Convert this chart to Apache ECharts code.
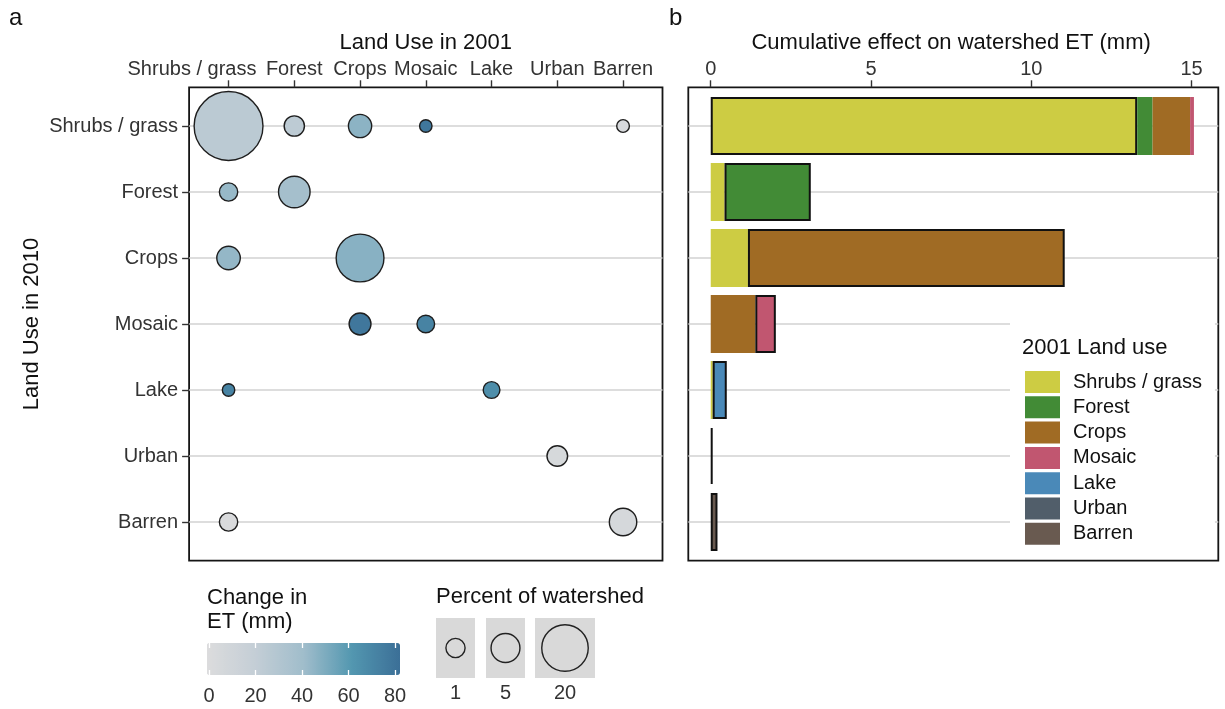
<!DOCTYPE html>
<html>
<head>
<meta charset="utf-8">
<script src="https://cdn.jsdelivr.net/npm/echarts@6/dist/echarts.min.js"></script>
<style>
  html, body { margin: 0; padding: 0; background: #ffffff; }
  #chart { width: 1225px; height: 709px; }
</style>
</head>
<body>
<div id="chart"></div>
<script>
// ---------------- DATA ----------------
const landUses = ['Shrubs / grass', 'Forest', 'Crops', 'Mosaic', 'Lake', 'Urban', 'Barren'];

// Panel a: one entry per bubble (index into landUses)
const from2001     = [0,    1,   2,   3,    6,    0,   1,   0,   2,    2,   3,    0,    4,    5,   0,   6];
const to2010       = [0,    0,   0,   0,    0,    1,   1,   2,   2,    3,   3,    4,    4,    5,   6,   6];
const etChange     = [25,   24,  46,  78,   3,    43,  38,  44,  47,   78,  72,   72,   66,   4,   2,   5];
const pctWatershed = [53.5, 1.3, 2.3, 0.02, 0.03, 0.8, 6.6, 2.4, 21.5, 1.8, 0.65, 0.02, 0.47, 1.4, 0.8, 4.2];

// Panel b: cumulative effect (mm), one array per 2001 land use, values per 2010 row
const cumShrubs = [13.30, 0.43, 1.16, 0,    0.06, 0,    0];
const cumForest = [0.48,  2.69, 0,    0,    0,    0,    0];
const cumCrops  = [1.17,  0,    9.88, 1.39, 0,    0,    0];
const cumMosaic = [0.12,  0,    0,    0.64, 0,    0,    0];
const cumLake   = [0,     0,    0,    0,    0.44, 0,    0];
const cumUrban  = [0,     0,    0,    0,    0,    0.06, 0];
const cumBarren = [0,     0,    0,    0,    0,    0,    0.21];

const etTicks = [0, 20, 40, 60, 80];
const cumTicks = [0, 5, 10, 15];
const sizeLegendValues = [1, 5, 20];

// ---------------- STYLE ----------------
const landColors = ['#CDCC43', '#428B36', '#A06B24', '#C15670', '#4A89B8', '#515E6A', '#695A50'];
const etColors = ['#dcdcdd', '#c4ced6', '#a0bdcb', '#5397b0', '#3b6f97'];
const FONT = '"Liberation Sans", Arial, Helvetica, sans-serif';
const TICK_COLOR = '#333333';
const TITLE_COLOR = '#111111';
const GRIDLINE = '#d2d2d2';

// ggplot-like area size scale (diameter in px)
function sizeScale(p) { return 11.3 + 7.87 * Math.sqrt(p); }

const cumSeries = [cumShrubs, cumForest, cumCrops, cumMosaic, cumLake, cumUrban, cumBarren];

const bubbleData = from2001.map((x, i) => [x, to2010[i], etChange[i], pctWatershed[i]]);

const barSeries = landUses.map((name, j) => ({
  type: 'bar',
  name: name,
  stack: 'cum',
  xAxisIndex: 3,
  yAxisIndex: 3,
  barWidth: 58,
  clip: false,
  silent: true,
  itemStyle: { color: landColors[j] },
  data: cumSeries[j].map((v, i) => i === j
    ? { value: v, itemStyle: { borderColor: '#111', borderWidth: 2 } }
    : v)
}));

// size legend graphics (legend keys, not data marks)
const keyLeft = [436, 486, 535];
const keyWidth = [39, 39, 60];
const keyTop = 618, keyHeight = 60;
const sizeLegendGraphics = [];
sizeLegendValues.forEach((v, i) => {
  const cx = keyLeft[i] + keyWidth[i] / 2;
  sizeLegendGraphics.push({
    type: 'rect', shape: { x: keyLeft[i], y: keyTop, width: keyWidth[i], height: keyHeight },
    style: { fill: '#d9d9d9' }, silent: true
  });
  sizeLegendGraphics.push({
    type: 'circle', shape: { cx: cx, cy: keyTop + keyHeight / 2, r: sizeScale(v) / 2 },
    style: { fill: 'none', stroke: '#222', lineWidth: 1.4 }, silent: true
  });
  sizeLegendGraphics.push({
    type: 'text', x: cx, y: 693,
    style: { text: String(v), fill: TICK_COLOR, font: '20px ' + FONT, align: 'center', verticalAlign: 'middle' },
    silent: true
  });
});

const tickLabel = { fontSize: 20, color: TICK_COLOR, fontFamily: FONT };
const axisTitle = { fontSize: 22, color: TITLE_COLOR, fontFamily: FONT };
const noLine = { show: false, onZero: false };

const chart = echarts.init(document.getElementById('chart'), null, { renderer: 'canvas' });

const option = {
  animation: false,
  backgroundColor: '#ffffff',
  textStyle: { fontFamily: FONT },
  title: [
    { text: 'a', left: 9, top: 6, padding: 0, textStyle: { fontSize: 24, fontWeight: 'normal', color: TITLE_COLOR, fontFamily: FONT } },
    { text: 'b', left: 669, top: 6, padding: 0, textStyle: { fontSize: 24, fontWeight: 'normal', color: TITLE_COLOR, fontFamily: FONT } },
    { text: 'Change in\nET (mm)', left: 207, top: 586, padding: 0, textStyle: { fontSize: 22, lineHeight: 24, fontWeight: 'normal', color: TITLE_COLOR, fontFamily: FONT } },
    { text: 'Percent of watershed', left: 436, top: 586, padding: 0, textStyle: { fontSize: 22, fontWeight: 'normal', color: TITLE_COLOR, fontFamily: FONT } },
    { text: '2001 Land use', left: 1022, top: 337, padding: 0, z: 20, textStyle: { fontSize: 22, fontWeight: 'normal', color: TITLE_COLOR, fontFamily: FONT } }
  ],
  grid: [
    { left: 189.1, top: 126, width: 473.4, height: 396 },                 // 0 bubbles + gridlines
    { left: 195.6, top: 87.3, width: 460.3, height: 473.4 },              // 1 top category labels
    { left: 189.1, top: 87.3, width: 473.4, height: 473.4, show: true, borderColor: '#151515', borderWidth: 1.8, backgroundColor: 'transparent' }, // 2 frame a
    { left: 688.3, top: 126, width: 530, height: 396 },                   // 3 bars + gridlines
    { left: 710.7, top: 87.3, width: 480.9, height: 473.4 },              // 4 top value labels
    { left: 688.3, top: 87.3, width: 530, height: 473.4, show: true, borderColor: '#151515', borderWidth: 1.8, backgroundColor: 'transparent' }, // 5 frame b
    { left: 209, top: 643, width: 186, height: 32 }                       // 6 colourbar labels
  ],
  xAxis: [
    { gridIndex: 0, type: 'value', min: -0.6, max: 6.6, show: false, axisLine: noLine },
    {
      gridIndex: 1, type: 'category', data: landUses, position: 'top', boundaryGap: true,
      axisLine: noLine,
      axisTick: { show: true, alignWithLabel: true, length: 7, lineStyle: { color: TICK_COLOR, width: 1.4 } },
      axisLabel: Object.assign({
        interval: 0, margin: 8,
        formatter: function (v) { return v === landUses[0] ? '{s|' + v + '}' : v; },
        rich: { s: { fontSize: 20, color: TICK_COLOR, fontFamily: FONT, padding: [0, 73, 0, 0] } }
      }, tickLabel),
      splitLine: { show: false },
      name: 'Land Use in 2001', nameLocation: 'middle', nameGap: 30, nameTextStyle: axisTitle
    },
    { gridIndex: 2, type: 'value', show: false, axisLine: noLine },
    { gridIndex: 3, type: 'value', min: -0.7, max: 15.83, show: false, axisLine: noLine },
    {
      gridIndex: 4, type: 'value', min: cumTicks[0], max: cumTicks[cumTicks.length - 1], interval: 5, position: 'top',
      axisLine: noLine,
      axisTick: { show: true, length: 7, lineStyle: { color: TICK_COLOR, width: 1.4 } },
      axisLabel: Object.assign({ margin: 8, showMinLabel: true, showMaxLabel: true }, tickLabel),
      splitLine: { show: false },
      name: 'Cumulative effect on watershed ET (mm)', nameLocation: 'middle', nameGap: 30, nameTextStyle: axisTitle
    },
    { gridIndex: 5, type: 'value', show: false, axisLine: noLine },
    {
      gridIndex: 6, type: 'value', min: etTicks[0], max: etTicks[etTicks.length - 1], interval: 20, position: 'bottom', z: 10,
      axisLine: noLine,
      axisTick: { show: true, inside: true, length: 5, lineStyle: { color: '#ffffff', width: 1.3 } },
      axisLabel: Object.assign({ margin: 11 }, tickLabel),
      splitLine: { show: false }
    },
    {
      gridIndex: 6, type: 'value', min: etTicks[0], max: etTicks[etTicks.length - 1], interval: 20, position: 'top', z: 10,
      axisLine: noLine,
      axisTick: { show: true, inside: true, length: 5, lineStyle: { color: '#ffffff', width: 1.3 } },
      axisLabel: { show: false },
      splitLine: { show: false }
    }
  ],
  yAxis: [
    {
      gridIndex: 0, type: 'category', data: landUses, inverse: true, boundaryGap: false,
      axisLine: noLine,
      axisTick: { show: true, length: 7, lineStyle: { color: TICK_COLOR, width: 1.4 } },
      axisLabel: Object.assign({ margin: 11 }, tickLabel),
      splitLine: { show: true, lineStyle: { color: GRIDLINE, width: 1.6 } },
      name: 'Land Use in 2010', nameLocation: 'middle', nameRotate: 90, nameGap: 146, nameTextStyle: axisTitle
    },
    { gridIndex: 1, type: 'value', show: false, axisLine: noLine },
    { gridIndex: 2, type: 'value', show: false, axisLine: noLine },
    {
      gridIndex: 3, type: 'category', data: landUses, inverse: true, boundaryGap: false,
      axisLine: noLine, axisTick: { show: false }, axisLabel: { show: false },
      splitLine: { show: true, lineStyle: { color: GRIDLINE, width: 1.6 } }
    },
    { gridIndex: 4, type: 'value', show: false, axisLine: noLine },
    { gridIndex: 5, type: 'value', show: false, axisLine: noLine },
    { gridIndex: 6, type: 'value', show: false, axisLine: noLine }
  ],
  visualMap: [{
    type: 'continuous',
    seriesIndex: 0,
    dimension: 2,
    min: -0.9,
    max: 82.2,
    orient: 'horizontal',
    left: 207,
    top: 643,
    itemWidth: 32,
    itemHeight: 193,
    padding: 0,
    calculable: false,
    hoverLink: false,
    realtime: false,
    text: null,
    showLabel: false,
    inRange: { color: etColors }
  }],
  legend: {
    data: landUses,
    orient: 'vertical',
    left: 1010,
    top: 318,
    padding: [53, 13, 8, 15],
    itemWidth: 35,
    itemHeight: 22,
    itemGap: 3.3,
    icon: 'rect',
    backgroundColor: '#ffffff',
    selectedMode: false,
    z: 5,
    textStyle: { fontSize: 20, color: TITLE_COLOR, fontFamily: FONT, padding: [0, 0, 0, 8] }
  },
  graphic: sizeLegendGraphics,
  series: [
    {
      type: 'scatter',
      name: 'bubbles',
      xAxisIndex: 0,
      yAxisIndex: 0,
      data: bubbleData,
      symbol: 'circle',
      symbolSize: function (v) { return sizeScale(v[3]); },
      itemStyle: { borderColor: '#1e1e1e', borderWidth: 1.4, opacity: 1 },
      silent: true,
      z: 3
    }
  ].concat(barSeries)
};

chart.setOption(option);
</script>
</body>
</html>
